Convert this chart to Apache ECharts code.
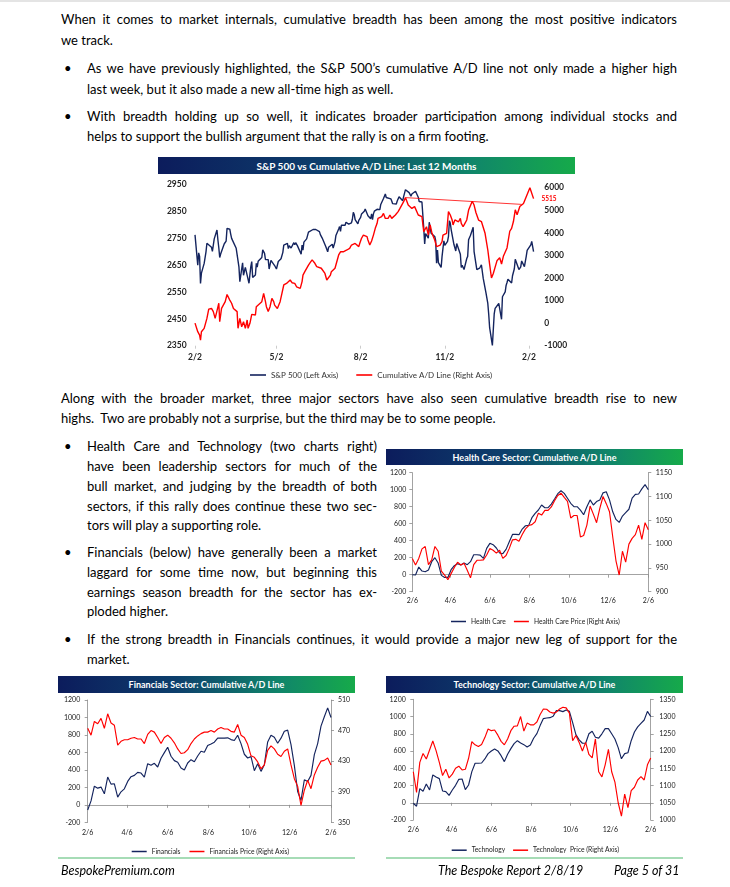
<!DOCTYPE html>
<html><head><meta charset="utf-8">
<script src="https://cdn.jsdelivr.net/npm/echarts@6/dist/echarts.min.js"></script>
<style>
html,body{margin:0;padding:0;background:#fff;}
body{width:730px;height:887px;overflow:hidden;position:relative;font-family:Lato,'Open Sans',sans-serif;color:#000;}
.ln{position:absolute;white-space:nowrap;font-size:13px;line-height:16px;height:16px;}
.j{text-align:justify;text-align-last:justify;}
.bu{position:absolute;font-size:13px;line-height:16px;left:64px;}
.bar{position:absolute;background:linear-gradient(90deg,#0c1c5c 0%,#0d3f6c 40%,#10866a 75%,#16aa4a 100%);color:#fff;font-weight:bold;display:flex;align-items:center;justify-content:center;white-space:nowrap;}
.ch{position:absolute;}
.ft{position:absolute;font-style:italic;font-size:12.5px;line-height:16px;white-space:nowrap;}
.gl{position:absolute;height:2px;background:#a6dcb6;}
</style></head><body>
<div style="position:absolute;left:0;top:0;width:730px;height:2px;background:#e4e4e4"></div>

<div class="ln j" style="left:61px;top:11px;width:616px">When it comes to market internals, cumulative breadth has been among the most positive indicators</div>
<div class="ln" style="left:61px;top:32px">we track.</div>

<div class="bu" style="top:60px">•</div>
<div class="ln j" style="left:87px;top:60px;width:590px">As we have previously highlighted, the S&amp;P 500’s cumulative A/D line not only made a higher high</div>
<div class="ln" style="left:87px;top:81px">last week, but it also made a new all-time high as well.</div>

<div class="bu" style="top:108px">•</div>
<div class="ln j" style="left:87px;top:108px;width:590px">With breadth holding up so well, it indicates broader participation among individual stocks and</div>
<div class="ln" style="left:87px;top:128px">helps to support the bullish argument that the rally is on a firm footing.</div>

<div class="bar" style="left:158px;top:157px;width:417px;height:17px;font-size:10px">S&amp;P 500 vs Cumulative A/D Line: Last 12 Months</div>
<div class="ch" id="c1" style="left:155px;top:155px;width:420px;height:225px"></div>

<div class="ln j" style="left:61px;top:390px;width:616px">Along with the broader market, three major sectors have also seen cumulative breadth rise to new</div>
<div class="ln" style="left:61px;top:410px">highs.&nbsp; Two are probably not a surprise, but the third may be to some people.</div>

<div class="bu" style="top:438px">•</div>
<div class="ln j" style="left:87px;top:438px;width:290px">Health Care and Technology (two charts right)</div>
<div class="ln j" style="left:87px;top:458px;width:290px">have been leadership sectors for much of the</div>
<div class="ln j" style="left:87px;top:478px;width:290px">bull market, and judging by the breadth of both</div>
<div class="ln j" style="left:87px;top:497.5px;width:290px">sectors, if this rally does continue these two sec-</div>
<div class="ln" style="left:87px;top:517px">tors will play a supporting role.</div>

<div class="bu" style="top:544px">•</div>
<div class="ln j" style="left:87px;top:544px;width:290px">Financials (below) have generally been a market</div>
<div class="ln j" style="left:87px;top:564px;width:290px">laggard for some time now, but beginning this</div>
<div class="ln j" style="left:87px;top:583.5px;width:290px">earnings season breadth for the sector has ex-</div>
<div class="ln" style="left:87px;top:603px">ploded higher.</div>

<div class="bu" style="top:631px">•</div>
<div class="ln j" style="left:87px;top:631px;width:590px">If the strong breadth in Financials continues, it would provide a major new leg of support for the</div>
<div class="ln" style="left:87px;top:651px">market.</div>

<div class="bar" style="left:386px;top:449px;width:297px;height:16px;font-size:9px">Health Care Sector: Cumulative A/D Line</div>
<div class="ch" id="c2" style="left:385px;top:445px;width:300px;height:185px"></div>

<div class="bar" style="left:58px;top:676px;width:297px;height:16.5px;font-size:9px">Financials Sector: Cumulative A/D Line</div>
<div class="ch" id="c3" style="left:55px;top:675px;width:300px;height:185px"></div>
<div class="gl" style="left:58px;top:857px;width:297px"></div>

<div class="bar" style="left:386px;top:676px;width:297px;height:16.5px;font-size:9px">Technology Sector: Cumulative A/D Line</div>
<div class="ch" id="c4" style="left:385px;top:675px;width:300px;height:185px"></div>
<div class="gl" style="left:386px;top:857px;width:297px"></div>

<div class="ft" style="left:61px;top:863px">BespokePremium.com</div>
<div class="ft" style="left:438px;top:863px">The Bespoke Report 2/8/19</div>
<div class="ft" style="left:614px;top:863px">Page 5 of 31</div>

<script>
// ---------------- DATA ----------------
// Main chart: S&P 500 daily closes (left axis)
const spxDates = ['180202','180205','180206','180207','180208','180209','180212','180213','180214','180215','180216','180220','180221','180222','180223','180226','180227','180228',
'180301','180302','180305','180306','180307','180308','180309','180312','180313','180314','180315','180316','180319','180320','180321','180322','180323','180326','180327','180328','180329',
'180402','180403','180404','180405','180406','180409','180410','180411','180412','180413','180416','180417','180418','180419','180420','180423','180424','180425','180426','180427','180430',
'180501','180502','180503','180504','180507','180508','180509','180510','180511','180514','180515','180516','180517','180518','180521','180522','180523','180524','180525','180529','180530','180531',
'180601','180604','180605','180606','180607','180608','180611','180612','180613','180614','180615','180618','180619','180620','180621','180622','180625','180626','180627','180628','180629',
'180702','180703','180705','180706','180709','180710','180711','180712','180713','180716','180717','180718','180719','180720','180723','180724','180725','180726','180727','180730','180731',
'180801','180802','180803','180806','180807','180808','180809','180810','180813','180814','180815','180816','180817','180820','180821','180822','180823','180824','180827','180828','180829','180830','180831',
'180904','180905','180906','180907','180910','180911','180912','180913','180914','180917','180918','180919','180920','180921','180924','180925','180926','180927','180928',
'181001','181002','181003','181004','181005','181008','181009','181010','181011','181012','181015','181016','181017','181018','181019','181022','181023','181024','181025','181026','181029','181030','181031',
'181101','181102','181105','181106','181107','181108','181109','181112','181113','181114','181115','181116','181119','181120','181121','181123','181126','181127','181128','181129','181130',
'181203','181204','181206','181207','181210','181211','181212','181213','181214','181217','181218','181219','181220','181221','181224','181226','181227','181228','181231',
'190102','190103','190104','190107','190108','190109','190110','190111','190114','190115','190116','190117','190118','190122','190123','190124','190125','190128','190129','190130','190131',
'190201','190204','190205','190206','190207'];
const spxValues = [2762,2649,2695,2682,2581,2620,2656,2662,2699,2731,2732,2716,2701,2703,2747,2780,2744,2714,
2678,2691,2720,2729,2727,2739,2786,2783,2765,2749,2747,2752,2712,2717,2711,2643,2588,2658,2612,2605,2641,
2582,2614,2644,2663,2604,2613,2656,2642,2664,2657,2678,2706,2708,2693,2670,2670,2635,2639,2667,2670,2648,
2655,2635,2630,2663,2673,2672,2697,2724,2728,2730,2711,2722,2720,2713,2733,2725,2733,2728,2721,2690,2724,2705,
2735,2747,2749,2772,2771,2779,2782,2787,2776,2782,2780,2774,2763,2767,2750,2755,2718,2723,2699,2716,2718,
2727,2713,2736,2760,2784,2793,2775,2798,2801,2798,2809,2815,2804,2802,2807,2820,2846,2838,2819,2803,2816,
2813,2827,2840,2850,2858,2857,2853,2833,2822,2840,2819,2840,2850,2857,2863,2862,2856,2875,2897,2898,2914,2901,2902,
2896,2888,2878,2872,2877,2888,2888,2904,2905,2889,2904,2907,2930,2930,2919,2916,2906,2914,2914,
2924,2923,2926,2902,2886,2884,2881,2786,2728,2767,2750,2809,2809,2768,2768,2756,2741,2657,2706,2659,2641,2682,2712,
2740,2723,2738,2756,2814,2806,2781,2726,2722,2702,2730,2736,2690,2641,2649,2633,2674,2682,2744,2738,2760,
2790,2700,2696,2633,2638,2637,2651,2650,2600,2546,2546,2507,2467,2417,2351,2468,2489,2486,2507,
2510,2448,2532,2550,2574,2585,2597,2596,2583,2610,2616,2636,2671,2633,2639,2643,2665,2644,2641,2682,2704,
2707,2725,2738,2732,2700];

// Main chart: cumulative A/D line (right axis), days after 2/2/2018
const adDays = [0,3,5,6,7,10,13,15,18,20,22,24,26,27,29,33,35,36,38,40,42,44,46,47,49,51,53,55,57,58,60,62,64,66,67,69,73,75,77,78,80,82,84,86,87,90,93,95,97,98,100,102,104,106,108,109,111,113,115,117,118,120,122,124,126,128,129,131,133,135,138,140,142,144,146,148,149,153,157,159,160,162,164,166,168,169,171,173,175,177,179,180,182,184,186,188,189,191,193,195,197,199,200,202,204,206,208,210,211,213,215,217,219,220,222,224,226,228,230,231,233,235,237,239,240,242,244,246,248,250,251,253,255,257,259,261,262,264,266,268,270,271,273,275,277,279,281,282,284,286,288,290,291,293,295,297,299,301,303,305,307,310,313,317,320,322,324,326,330,333,335,337,341,344,346,348,350,352,355,359,361,363,366,368,370];
const adValues = [0,-380,-530,-750,-380,-230,210,620,650,510,210,540,880,60,650,950,1270,1240,1020,880,650,730,510,-230,210,-160,60,-230,140,-230,-10,390,430,360,730,650,950,1320,950,730,510,730,1100,950,800,650,950,1320,1690,1610,1760,1690,1910,1790,1860,1760,1610,1690,1540,1840,2130,2280,2350,2570,2690,2800,2720,2650,2500,2570,2430,2350,2200,1910,1980,2130,2280,2430,3020,3160,3090,3160,3090,3240,3270,3310,3460,3460,3530,3580,3390,3530,3760,3900,3980,3830,3680,3460,3640,3900,4200,4420,4640,4720,4720,4860,4640,4720,4640,4790,4640,4720,4790,4760,4940,5080,5160,5380,5560,5450,5230,5310,5080,5010,5160,5080,4790,4860,4720,4050,4120,4270,3900,4350,3980,3900,3680,3390,3310,3460,3610,3900,3980,3980,4940,4790,4570,4350,4570,4640,4490,4640,4420,4270,4420,4570,5010,5080,5400,5230,4900,4560,4500,3980,3240,2600,2000,2200,2760,2900,2620,2960,3330,4070,4200,4500,5020,4800,5170,5300,5500,5700,6000,6050,5515];
const adTrendLine = [[230, 5560], [357, 5260]];
const mainTicks = [0, 89, 181, 273, 365];
const mainTickLabels = ['2/2', '5/2', '8/2', '11/2', '2/2'];
const mainNames = ['S&P 500 (Left Axis)', 'Cumulative A/D Line (Right Axis)'];

// Sector charts: days after 2/6/2018
const sectorDays = [0,5,10,15,20,25,30,35,40,45,50,55,60,65,70,75,80,85,90,95,100,105,110,115,120,125,130,135,140,145,150,155,160,165,170,175,180,185,190,195,200,205,210,215,220,225,230,235,240,245,250,255,260,265,270,275,280,285,290,295,300,305,310,315,320,325,330,335,340,345,350,355,360,365];
const sectorTicks = [0, 59, 120, 181, 242, 303, 365];
const sectorTickLabels = ['2/6', '4/6', '6/6', '8/6', '10/6', '12/6', '2/6'];

const hcAD = [0,-4,90,43,35,55,153,200,137,-8,-32,-32,59,106,129,114,137,118,153,235,235,231,192,310,369,353,314,255,247,298,388,474,474,471,537,576,580,671,722,761,820,788,788,831,890,953,988,957,900,840,800,800,760,705,800,880,820,860,880,963,975,880,740,650,615,690,730,770,900,945,950,1010,1060,1000];
const hcPrice = [970,956,970,990,995,957,967,995,985,943,935,925,938,951,962,956,960,945,929,957,966,966,967,977,991,987,981,987,970,976,991,1009,1010,1006,1020,1032,1039,1041,1047,1065,1061,1071,1071,1078,1091,1102,1107,1098,1090,1055,1060,1060,1015,1018,1040,1080,1063,1045,1075,1100,1085,1068,1015,965,935,985,962,1000,1012,1020,1040,1010,1045,1030];

const finAD = [-60,45,214,191,203,126,318,237,241,88,149,183,268,322,337,371,364,318,471,452,475,433,533,598,659,556,506,487,421,398,479,517,494,559,613,602,678,697,717,763,763,763,767,747,736,797,701,579,536,552,391,471,383,460,720,797,774,705,763,843,855,690,452,153,50,287,268,337,575,701,901,1008,1110,1000];
const finPrice = [473,464,482,479,486,473,492,480,477,451,456,458,458,460,461,459,459,453,465,470,468,461,453,461,464,460,454,446,440,441,445,453,459,463,466,468,468,470,468,472,474,472,472,469,468,478,464,461,452,437,435,429,420,425,444,450,446,439,436,443,446,425,407,397,372,392,405,394,412,422,430,431,434,425];

const techAD = [-6,-40,164,133,218,148,322,299,280,137,129,86,148,202,272,276,152,206,361,458,458,461,508,570,601,624,601,546,477,562,628,686,720,693,674,647,670,748,802,895,976,983,987,1003,1069,1069,1057,1076,1060,930,790,730,690,690,800,830,760,750,800,860,860,800,740,640,510,570,580,720,820,880,920,960,1060,1000];
const techPrice = [1140,1080,1167,1193,1177,1203,1229,1201,1167,1129,1147,1122,1133,1150,1156,1145,1147,1179,1227,1218,1213,1219,1239,1264,1259,1261,1246,1228,1218,1235,1259,1272,1273,1300,1258,1281,1276,1276,1284,1306,1322,1321,1313,1310,1313,1322,1327,1325,1310,1230,1245,1225,1200,1225,1190,1180,1235,1140,1125,1160,1205,1140,1110,1050,1011,1075,1036,1085,1095,1116,1126,1116,1160,1180];

// ---------------- CHARTS ----------------
const NAVY = '#14245e', RED = '#ff0000', AX = '#8c8c8c', FONT = 'Lato';
const plain = v => String(v);
function dayOf(s, base) {
  return (Date.UTC(2000 + +s.slice(0, 2), +s.slice(2, 4) - 1, +s.slice(4, 6)) - base) / 864e5;
}
const base1 = Date.UTC(2018, 1, 2);

const c1 = echarts.init(document.getElementById('c1'));
c1.setOption({
  animation: false,
  textStyle: { fontFamily: FONT },
  grid: { left: 39.1, right: 38.7, top: 29.3, bottom: 34.3 },
  legend: {
    left: 90, top: 211, icon: 'rect', itemWidth: 16, itemHeight: 1.6, itemGap: 18,
    textStyle: { fontSize: 8, color: '#333', fontFamily: FONT }, data: mainNames
  },
  xAxis: {
    type: 'value', min: -1, max: 373, splitLine: { show: false },
    axisLine: { show: false, onZero: false },
    axisTick: { show: true, customValues: mainTicks, length: 3, lineStyle: { color: '#bfbfbf', width: 0.8 } },
    axisLabel: { customValues: mainTicks, formatter: v => mainTickLabels[mainTicks.indexOf(v)], fontSize: 8.5, fontWeight: 'bold', color: '#262626', margin: 7 }
  },
  yAxis: [
    { type: 'value', min: 2350, max: 2950, interval: 100, splitLine: { show: false },
      axisLine: { show: false, onZero: false }, axisTick: { show: false },
      axisLabel: { formatter: plain, fontSize: 8.5, fontWeight: 'bold', color: '#262626', margin: 7.5 } },
    { type: 'value', min: -1000, max: 6150, interval: 1000, position: 'right', splitLine: { show: false },
      axisLine: { show: false, onZero: false }, axisTick: { show: false },
      axisLabel: { formatter: plain, showMaxLabel: false, fontSize: 8.5, fontWeight: 'bold', color: '#262626', margin: 8 } }
  ],
  series: [
    { name: mainNames[0], type: 'line', yAxisIndex: 0, symbol: 'none',
      data: spxDates.map((d, i) => [dayOf(d, base1), spxValues[i]]),
      lineStyle: { color: NAVY, width: 1.4 }, itemStyle: { color: NAVY } },
    { name: mainNames[1], type: 'line', yAxisIndex: 1, symbol: 'none',
      data: adDays.map((d, i) => [d, adValues[i]]),
      lineStyle: { color: RED, width: 1.4 }, itemStyle: { color: RED },
      endLabel: { show: true, formatter: p => String(p.value[1]), color: RED, fontSize: 6.5, fontWeight: 'bold', distance: 8 },
      markLine: { silent: true, symbol: 'none', label: { show: false }, animation: false,
        lineStyle: { color: RED, width: 0.8, type: 'solid' },
        data: [[{ coord: adTrendLine[0] }, { coord: adTrendLine[1] }]] } }
  ]
});

function sectorChart(id, cfg) {
  const ch = echarts.init(document.getElementById(id));
  const axStyle = { color: AX, width: 0.8 };
  const lbl = { fontSize: 7, color: '#1a1a1a' };
  ch.setOption({
    animation: false,
    textStyle: { fontFamily: FONT },
    grid: cfg.grid,
    legend: {
      left: cfg.legendLeft, top: cfg.legendTop, icon: 'rect', itemWidth: 15, itemHeight: 1.5, itemGap: cfg.legendGap,
      textStyle: { fontSize: 6.7, color: '#222', fontFamily: FONT }, data: cfg.names
    },
    xAxis: [
      { type: 'value', min: 0, max: 365, splitLine: { show: false },
        axisLine: { show: false, onZero: false }, axisTick: { show: false },
        axisLabel: Object.assign({ customValues: sectorTicks, formatter: v => sectorTickLabels[sectorTicks.indexOf(v)], margin: cfg.xMargin }, lbl) },
      { type: 'value', min: 0, max: 365, position: 'bottom', splitLine: { show: false },
        axisLine: { show: true, onZero: true, onZeroAxisIndex: 0, lineStyle: axStyle },
        axisTick: { show: true, customValues: sectorTicks, length: 3, lineStyle: axStyle },
        axisLabel: { show: false } }
    ],
    yAxis: [
      { type: 'value', min: -200, max: 1200, interval: 200, splitLine: { show: false },
        axisLine: { show: true, onZero: false, lineStyle: axStyle }, axisTick: { show: true, length: 3, lineStyle: axStyle },
        axisLabel: Object.assign({ formatter: plain, margin: cfg.lMargin }, lbl) },
      { type: 'value', min: cfg.rMin, max: cfg.rMax, interval: cfg.rInt, position: 'right', splitLine: { show: false },
        axisLine: { show: true, onZero: false, lineStyle: axStyle }, axisTick: { show: true, length: 3, lineStyle: axStyle },
        axisLabel: Object.assign({ formatter: plain, margin: cfg.rMargin }, lbl) }
    ],
    series: [
      { name: cfg.names[0], type: 'line', xAxisIndex: 0, yAxisIndex: 0, symbol: 'none',
        data: sectorDays.map((d, i) => [d, cfg.ad[i]]),
        lineStyle: { color: NAVY, width: 1.15 }, itemStyle: { color: NAVY } },
      { name: cfg.names[1], type: 'line', xAxisIndex: 0, yAxisIndex: 1, symbol: 'none',
        data: sectorDays.map((d, i) => [d, cfg.price[i]]),
        lineStyle: { color: RED, width: 1.15 }, itemStyle: { color: RED } }
    ]
  });
}

sectorChart('c2', {
  grid: { left: 27.3, right: 36.7, top: 27.7, bottom: 38.3 },
  names: ['Health Care', 'Health Care Price (Right Axis)'],
  ad: hcAD, price: hcPrice, rMin: 900, rMax: 1150, rInt: 50,
  legendLeft: 61, legendTop: 168, legendGap: 8, xMargin: 6, lMargin: 6, rMargin: 7.5
});
sectorChart('c3', {
  grid: { left: 32.7, right: 24, top: 25, bottom: 37.7 },
  names: ['Financials', 'Financials Price (Right Axis)'],
  ad: finAD, price: finPrice, rMin: 350, rMax: 510, rInt: 40,
  legendLeft: 71.7, legendTop: 168, legendGap: 9, xMargin: 6.5, lMargin: 7.5, rMargin: 7
});
sectorChart('c4', {
  grid: { left: 28.3, right: 34.3, top: 24.3, bottom: 40 },
  names: ['Technology', 'Technology  Price (Right Axis)'],
  ad: techAD, price: techPrice, rMin: 1000, rMax: 1350, rInt: 50,
  legendLeft: 61.7, legendTop: 166.7, legendGap: 8, xMargin: 6.5, lMargin: 7.5, rMargin: 8.5
});

// fit justified lines: shrink body font uniformly if any line is too long
(function fit() {
  const lines = Array.from(document.querySelectorAll('.j'));
  let ratio = 1;
  lines.forEach(el => {
    el.style.textAlignLast = 'left'; el.style.textAlign = 'left';
    const r = document.createRange(); r.selectNodeContents(el);
    const w = r.getBoundingClientRect().width;
    const cw = el.clientWidth;
    if (w > cw) ratio = Math.min(ratio, cw / w);
    el.style.textAlignLast = ''; el.style.textAlign = '';
  });
  if (ratio < 1) {
    const fs = (13 * ratio * 0.995).toFixed(2) + 'px';
    document.querySelectorAll('.ln').forEach(el => el.style.fontSize = fs);
  }
})();
</script>
</body></html>
